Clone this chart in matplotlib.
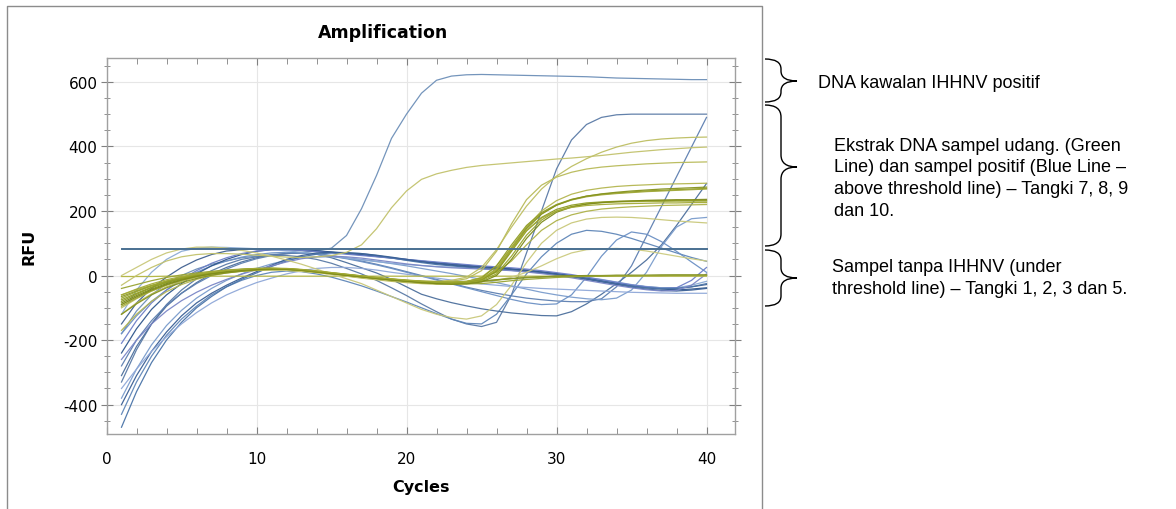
import matplotlib
matplotlib.use("Agg")
import matplotlib.pyplot as plt
from matplotlib.lines import Line2D
from matplotlib.path import Path
from matplotlib.patches import PathPatch

plt.rcParams['axes.unicode_minus'] = False

W, H = 1176, 510

cycles = list(range(1, 41))
threshold = 82

# ---- blue curves (IHHNV positive control + positive samples + non-amplified) ----
pc = [-180,-110,-60,-25,0,20,35,45,55,60, 65,68,72,76,85,124,207,310,425,500,
      565,605,618,622,623,622,621,620,619,618, 617,616,614,612,611,610,609,608,607,607]
b500 = [-330,-230,-150,-90,-45,-10,15,35,50,58, 62,62,58,50,38,22,5,-15,-38,-62,
        -88,-112,-135,-150,-158,-145,-60,70,200,330, 420,468,490,498,500,500,500,500,500,500]
hump1 = [-430,-330,-250,-185,-135,-95,-60,-35,-15,0, 10,14,12,5,-5,-18,-32,-48,-65,-82,
         -100,-118,-135,-148,-150,-120,-60,5,58,100, 128,140,137,128,115,100,85,70,56,44]
b285 = [-310,-220,-150,-95,-55,-22,5,25,42,55, 63,68,70,66,55,40,24,8,-12,-35,
        -58,-72,-84,-94,-103,-110,-116,-120,-124,-125, -112,-88,-58,-25,10,48,95,155,220,285]
b490 = [-280,-200,-140,-92,-55,-25,0,20,38,52, 62,68,70,68,62,54,45,35,24,12,
        0,-12,-24,-36,-46,-55,-63,-70,-75,-79, -81,-81,-72,-35,30,122,214,306,398,490]
b180 = [-380,-290,-215,-155,-108,-70,-40,-15,5,22, 36,47,55,58,58,55,50,44,37,30,
        22,14,6,-3,-12,-22,-32,-42,-52,-60, -67,-72,-75,-70,-45,10,90,150,176,180]
hump2 = [-180,-125,-80,-45,-15,10,30,45,57,65, 70,72,70,66,60,52,43,33,22,10,
         -2,-14,-26,-38,-50,-62,-74,-84,-90,-88, -60,-5,60,110,135,128,105,75,42,10]
bu1 = [-150,-85,-40,-5,25,48,65,76,80,82, 82,80,78,75,72,68,64,59,54,48,
       43,38,34,30,27,24,21,17,12,6, -1,-9,-17,-24,-30,-35,-38,-39,-35,-28]
bu2 = [-120,-45,10,50,75,85,88,87,85,83, 80,77,72,66,60,54,48,43,38,34,
       31,28,26,24,22,20,17,14,10,5, 0,-6,-12,-20,-28,-34,-38,-38,-30,-18]
bu3 = [-240,-165,-105,-60,-25,5,30,50,65,75, 80,82,80,77,73,69,65,60,55,50,
       45,40,36,32,28,24,20,16,11,6, 0,-8,-16,-24,-32,-38,-42,-44,-42,-38]
bu4 = [-210,-140,-85,-45,-12,15,38,55,68,76, 80,80,78,74,70,66,62,58,54,50,
       46,42,38,34,30,27,24,20,15,9, 3,-5,-13,-21,-29,-35,-40,-38,-15,25]
bm1 = [-470,-360,-270,-200,-145,-100,-65,-35,-12,8, 28,45,58,66,70,70,68,62,55,47,
       40,34,30,26,22,19,16,12,8,3, -3,-10,-18,-26,-33,-38,-40,-40,-35,-25]
bm2 = [-400,-310,-235,-175,-125,-85,-55,-30,-8,12, 32,50,62,70,72,71,68,63,57,50,
       43,37,32,28,25,22,18,14,9,3, -4,-12,-20,-28,-36,-42,-46,-48,-45,-40]
bm3 = [-350,-290,-235,-190,-150,-115,-85,-60,-40,-22, -8,5,15,22,25,25,22,17,10,4,
       -2,-8,-14,-20,-26,-30,-34,-37,-40,-42, -44,-46,-48,-50,-52,-53,-54,-55,-55,-55]
bm4 = [-260,-200,-150,-110,-78,-52,-30,-12,4,18, 30,42,52,58,60,58,54,48,42,36,
       31,27,24,22,20,18,15,11,6,0, -7,-15,-23,-31,-38,-44,-48,-46,-30,5]

# ---- olive / green curves (shrimp sample extracts) ----
ob1 = [-80,-58,-38,-22,-10,0,7,13,17,20, 21,20,17,12,7,2,-3,-8,-12,-16,
       -19,-21,-22,-20,-12,12,75,138,180,205, 218,225,228,230,231,232,232,232,232,232]
ob2 = [-70,-50,-32,-17,-6,3,10,15,19,21, 22,21,18,13,8,3,-2,-7,-12,-16,
       -19,-22,-24,-23,-16,5,60,125,172,200, 214,222,226,228,229,230,230,231,231,231]
ob3 = [-90,-66,-45,-28,-14,-3,5,11,16,19, 21,20,17,12,6,1,-4,-9,-14,-18,
       -22,-25,-27,-26,-20,0,50,115,165,196, 212,221,226,229,231,233,234,235,235,236]
ob4 = [-60,-42,-26,-13,-3,5,11,16,19,22, 23,22,19,14,9,4,-1,-6,-10,-14,
       -17,-19,-20,-18,-10,18,82,140,178,200, 211,217,220,222,223,224,225,225,226,226]
o270a = [-75,-55,-36,-20,-8,2,9,14,18,20, 21,20,17,12,7,2,-3,-8,-12,-16,
         -19,-21,-22,-19,-8,30,95,155,195,220, 236,246,252,256,259,262,264,266,268,270]
o270b = [-95,-70,-48,-30,-15,-4,5,11,15,18, 20,19,16,11,6,1,-4,-9,-13,-17,
         -20,-23,-24,-22,-12,22,88,150,192,218, 234,244,250,254,257,260,262,264,266,268]
o270c = [-120,-88,-60,-38,-22,-9,1,8,13,17, 19,19,16,11,6,1,-4,-9,-14,-18,
         -22,-25,-26,-24,-15,15,80,145,190,218, 235,246,253,258,262,265,268,270,272,274]
o285 = [-170,-120,-80,-50,-28,-12,0,8,14,18, 19,18,15,10,4,-2,-8,-13,-18,-22,
        -25,-27,-26,-20,-5,30,85,150,200,232, 252,264,271,276,279,281,283,284,285,286]
o350 = [-120,-85,-57,-35,-18,-5,4,11,16,19, 20,19,16,11,5,0,-5,-10,-14,-17,
        -19,-20,-18,-10,15,75,160,235,280,305, 320,330,336,340,343,346,348,350,351,352]
o428 = [-100,-72,-48,-29,-14,-3,6,12,17,20, 21,20,17,12,6,1,-4,-8,-12,-15,
        -17,-18,-15,-5,25,80,150,215,268,308, 338,362,382,398,410,418,423,426,428,429]
o398 = [-30,0,25,45,58,65,68,68,66,63, 60,57,56,58,62,72,95,145,210,262,
        298,315,326,335,341,345,349,353,357,361, 364,368,372,377,382,386,390,393,396,398]
o220 = [-60,-44,-30,-18,-8,0,6,11,14,16, 17,16,13,9,4,-1,-6,-10,-14,-17,
        -19,-20,-20,-18,-8,10,45,95,140,170, 188,199,206,210,213,215,217,218,219,220]
o165 = [0,25,50,70,82,88,88,85,78,70, 60,48,35,20,5,-10,-25,-45,-65,-85,
        -105,-120,-130,-135,-125,-90,-30,40,100,140, 163,175,180,181,180,177,173,169,166,163]
omid = [-90,-66,-45,-28,-15,-5,3,9,13,16, 17,16,13,9,4,-1,-6,-11,-15,-18,
        -20,-22,-23,-22,-20,-15,-5,10,30,52, 70,80,83,84,82,76,68,60,52,45]
oflat = [-3,-3,-3,-2,-2,-2,-2,-2,-2,-2, -2,-2,-2,-2,-2,-2,-2,-2,-2,-2,
         -2,-2,-2,-2,-2,-2,-2,-2,-2,-2, -2,-2,-2,-2,-2,-2,-2,-2,-2,-2]
on1 = [-85,-62,-42,-25,-12,-2,6,12,16,19, 20,19,16,11,6,1,-4,-9,-13,-17,
       -20,-22,-23,-21,-17,-13,-9,-6,-4,-2, -1,0,0,1,1,1,2,2,2,2]
on2 = [-65,-48,-32,-18,-7,2,9,14,18,21, 22,21,18,13,8,3,-2,-7,-11,-15,
       -18,-21,-22,-21,-18,-14,-10,-7,-5,-3, -2,-1,-1,0,0,0,0,1,1,1]
on3 = [-40,-28,-16,-6,2,8,13,17,20,22, 22,21,18,14,9,4,-1,-6,-11,-15,
       -19,-22,-25,-26,-25,-21,-16,-12,-9,-6, -4,-3,-2,-1,-1,0,0,0,0,0]

blue_series = [pc, b500, hump1, b285, b490, b180, hump2, bu1, bu2, bu3, bu4, bm1, bm2, bm3, bm4]
blue_colors = ['#6d8fb8', '#5a7aa6', '#5f86b8', '#4c6f9c', '#5d7fb0', '#7a9ccc', '#6b90c4',
               '#3f5f8f', '#8aaad4', '#2f568c', '#6d7fc8', '#4a74a8', '#3a5f95', '#8fa8d8', '#7a86c6']
olive_series = [oflat, o285, o350, o428, o398, o220, o165, omid, on1, on2, on3,
                o270a, o270b, o270c, ob1, ob2, ob3, ob4]
olive_colors = ['#b3b640', '#b4b650', '#b8ba58', '#bdbe62', '#c2c26c', '#aeb248', '#c9c87a',
                '#cccb80', '#7b8a1e', '#8a9828', '#98a332', '#8f9c25', '#a0a838', '#86931f',
                '#8d9a22', '#9aa62e', '#7e8b1a', '#a3aa35']

fig = plt.figure(figsize=(W / 100, H / 100), dpi=100)
fig.patch.set_facecolor('white')

ax = fig.add_axes([106.5 / W, 1 - 435 / H, (735 - 106.5) / W, (435 - 59) / H])
ax.set_xlim(0, 41.9)
ax.set_ylim(-491, 674)

for s, c in zip(blue_series, blue_colors):
    ax.plot(cycles, s, color=c, lw=0.9, alpha=0.95)
for s, c in zip(olive_series, olive_colors):
    ax.plot(cycles, s, color=c, lw=0.9, alpha=0.95)
ax.plot([cycles[0], cycles[-1]], [threshold, threshold], color='#4a7092', lw=1.4)

ax.set_xticks([0, 10, 20, 30, 40])
ax.set_xticks(range(0, 42, 2), minor=True)
ax.set_yticks([-400, -200, 0, 200, 400, 600])
ax.set_yticks(range(-450, 674, 50), minor=True)
ax.grid(True, which='major', color='#e6e6e6', lw=0.8)
ax.set_axisbelow(True)
for sp in ax.spines.values():
    sp.set_color('#a0a0a0')
    sp.set_linewidth(1.0)
ax.tick_params(axis='x', which='both', direction='in', top=True, bottom=True,
               color='#808080', labelsize=11, pad=12)
ax.tick_params(axis='x', which='major', length=5)
ax.tick_params(axis='x', which='minor', length=4)
ax.tick_params(axis='y', which='both', direction='inout', left=True, right=True,
               color='#808080', labelsize=11, pad=2)
ax.tick_params(axis='y', which='major', length=9)
ax.tick_params(axis='y', which='minor', length=5)

fig.text(383 / W, 1 - 33 / H, 'Amplification', ha='center', va='center',
         fontsize=12.5, fontweight='bold')
fig.text(29 / W, 1 - 247 / H, 'RFU', ha='center', va='center', rotation=90,
         fontsize=11.5, fontweight='bold')
fig.text(421 / W, 1 - 488 / H, 'Cycles', ha='center', va='center',
         fontsize=11.5, fontweight='bold')

# chart frame
fig.add_artist(Line2D([7 / W, 7 / W, 762 / W, 762 / W], [0, 1 - 7 / H, 1 - 7 / H, 0],
                      color='#8c8c8c', lw=1.0))

# curly braces
def brace(x0, xv, xt, top, tip, bot, r=9):
    def P(x, y):
        return (x / W, 1 - y / H)
    verts = [P(x0, top), P(xv, top), P(xv, top + r),
             P(xv, tip - r), P(xv, tip), P(xt, tip),
             P(xv, tip), P(xv, tip + r),
             P(xv, bot - r), P(xv, bot), P(x0, bot)]
    codes = [Path.MOVETO, Path.CURVE3, Path.CURVE3,
             Path.LINETO, Path.CURVE3, Path.CURVE3,
             Path.CURVE3, Path.CURVE3,
             Path.LINETO, Path.CURVE3, Path.CURVE3]
    patch = PathPatch(Path(verts, codes), fill=False, edgecolor='black', lw=1.0,
                      transform=fig.transFigure)
    fig.add_artist(patch)

brace(765, 781, 797, 60, 82, 103, r=10)
brace(765, 781, 797, 106, 168, 247, r=12)
brace(765, 781, 797, 251, 279, 307, r=10)

tfont = dict(family='Liberation Sans', fontsize=13, ha='left', va='center', color='black')
fig.text(818 / W, 1 - 84 / H, 'DNA kawalan IHHNV positif', **tfont)
mid_lines = ['Ekstrak DNA sampel udang. (Green',
             'Line) dan sampel positif (Blue Line \u2013',
             'above threshold line) \u2013 Tangki 7, 8, 9',
             'dan 10.']
for yy, t in zip([147, 168, 190, 212], mid_lines):
    fig.text(834 / W, 1 - yy / H, t, **tfont)
low_lines = ['Sampel tanpa IHHNV (under',
             'threshold line) \u2013 Tangki 1, 2, 3 dan 5.']
for yy, t in zip([268, 290], low_lines):
    fig.text(832 / W, 1 - yy / H, t, **tfont)

fig.savefig('out.png', dpi=100, facecolor='white')
